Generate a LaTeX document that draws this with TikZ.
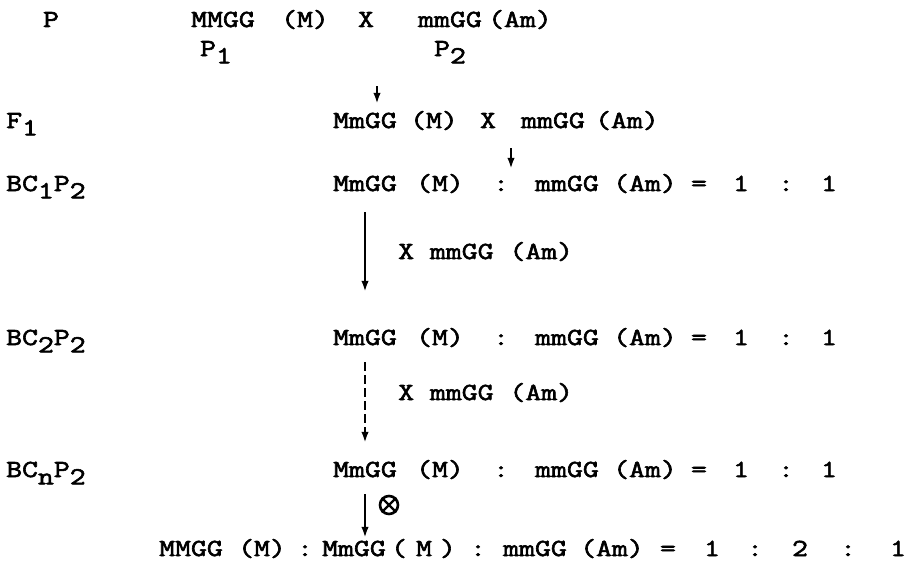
\documentclass[tikz,border=0pt]{standalone}
\usepackage{fontspec}
\usetikzlibrary{arrows.meta}
\newfontfamily\tw[FakeBold=2.5,FakeStretch=1.26]{Latin Modern Mono}
\newcommand\lowr[1]{\raisebox{-0.3em}{#1}}
\tikzset{
  tok/.style={anchor=base, inner sep=0pt, font=\tw\fontsize{24.5}{28}\selectfont, text height=15pt, text depth=4pt},
  lab/.style={tok, anchor=base west},
  arr/.style={line width=2.4pt, -{Latex[length=11pt,width=7.5pt]}},
  darr/.style={arr, dash pattern=on 9pt off 4pt},
}
\begin{document}
\begin{tikzpicture}[x=1pt,y=-1pt]
\useasboundingbox (0,0) rectangle (915,562);
% row P
\node[tok] (p) at (51,27) {P};
\node[tok] (p1a) at (223,27) {MMGG};
\node[tok] (p1b) at (305,27) {(M)};
\node[tok] (px) at (366,27) {X};
\node[tok] (p2a) at (450,27) {mmGG};
\node[tok] (p2b) at (520,27) {(Am)};
\node[tok] (pp1) at (216,56) {P\lowr{1}};
\node[tok] (pp2) at (450,56) {P\lowr{2}};
% row F1
\node[lab] (f1) at (6,128) {F\lowr{1}};
\node[tok] (fa) at (365,128) {MmGG};
\node[tok] (fb) at (434,128) {(M)};
\node[tok] (fx) at (488,128) {X};
\node[tok] (fc) at (553,128) {mmGG};
\node[tok] (fd) at (627,128) {(Am)};
\coordinate (a1s) at (377,86);
\coordinate (a2s) at (511,148);
\draw[arr, shorten >=9pt] (a1s) -- (fa.north -| a1s);
% rows BC
\foreach \r/\y/\n in {b1/191/1,b2/345/2,bn/477/n}{
  \node[lab] (\r l) at (6,\y) {BC\lowr{\n}P\lowr{2}};
  \node[tok] (\r a) at (365,\y) {MmGG};
  \node[tok] (\r b) at (440,\y) {(M)};
  \node[tok] (\r c) at (501,\y) {:};
  \node[tok] (\r d) at (567,\y) {mmGG};
  \node[tok] (\r e) at (645,\y) {(Am)};
  \node[tok] (\r f) at (699,\y) {=};
  \node[tok] (\r g) at (741,\y) {1};
  \node[tok] (\r h) at (786,\y) {:};
  \node[tok] (\r i) at (829,\y) {1};
}
\draw[arr, shorten >=7pt] (a2s) -- (b1d.north -| a2s);
\node[lab] (x1) at (398,259) {X mmGG (Am)};
\node[lab] (x2) at (398,400) {X mmGG (Am)};
\draw[arr, shorten <=17pt, shorten >=38pt] (b1a.south) -- (b2a.north);
\draw[darr, shorten <=13pt, shorten >=19pt] (b2a.south) -- (bna.north);
% bottom row
\node[tok] (ca) at (191,556) {MMGG};
\node[tok] (cb) at (262,556) {(M)};
\node[tok] (cc) at (305,556) {:};
\node[tok] (cd) at (354,556) {MmGG};
\node[tok] (ce) at (399,556) {(};
\node[tok] (cf) at (424,556) {M};
\node[tok] (cg) at (448,556) {)};
\node[tok] (ch) at (478,556) {:};
\node[tok] (ci) at (535,556) {mmGG};
\node[tok] (cj) at (612,556) {(Am)};
\node[tok] (ck) at (668,556) {=};
\node[tok] (cl) at (712,556) {1};
\node[tok] (cm) at (755,556) {:};
\node[tok] (cn) at (800,556) {2};
\node[tok] (co) at (848,556) {:};
\node[tok] (cp) at (898,556) {1};
\draw[arr, shorten <=13pt, shorten >=3pt] (bna.south) -- (bna.south |- cd.north);
\node[circle, draw, line width=2.6pt, minimum size=18pt, inner sep=0pt] (ot) at (389,505) {};
\draw[line width=2.4pt] (ot.north west) -- (ot.south east) (ot.north east) -- (ot.south west);
\end{tikzpicture}
\end{document}
